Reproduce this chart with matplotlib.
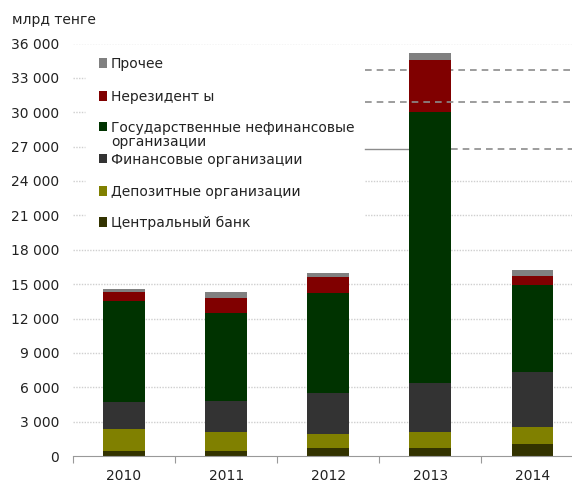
import matplotlib
matplotlib.use("Agg")
import matplotlib.pyplot as plt
from matplotlib.patches import Rectangle

years = ["2010", "2011", "2012", "2013", "2014"]
central_bank = [450, 450, 700, 700, 1050]
deposit_orgs = [1900, 1650, 1200, 1400, 1500]
financial_orgs = [2350, 2700, 3600, 4300, 4800]
gov_nonfin = [8800, 7700, 8700, 23600, 7550]
nonresidents = [800, 1300, 1450, 4550, 850]
other = [300, 500, 350, 650, 450]

series = [
    (central_bank, "#333300", "Центральный банк"),
    (deposit_orgs, "#808000", "Депозитные организации"),
    (financial_orgs, "#333333", "Финансовые организации"),
    (gov_nonfin, "#003300", "Государственные нефинансовые\nорганизации"),
    (nonresidents, "#800000", "Нерезидент ы"),
    (other, "#808080", "Прочее"),
]
yticks = list(range(0, 36001, 3000))

W, H = 572, 483
fig = plt.figure(figsize=(W / 100, H / 100), dpi=100)
ax_l, ax_r, ax_t, ax_b = 73, 583.5, 43.5, 456
ax = fig.add_axes([ax_l / W, 1 - ax_b / H, (ax_r - ax_l) / W, (ax_b - ax_t) / H])


def fx(px):
    return (px - ax_l) / (ax_r - ax_l)


x = range(len(years))
bottom = [0] * len(years)
for vals, color, label in series:
    ax.bar(x, vals, width=0.41, bottom=bottom, color=color, zorder=3)
    bottom = [b + v for b, v in zip(bottom, vals)]

ax.set_xlim(-0.5, 4.5)
ax.set_ylim(0, 36000)

# gridlines (partly hidden behind the legend box in the original)
grid_kw = dict(color="#cfcfcf", lw=1, ls=(0, (1, 1)), zorder=1)
for v in yticks[1:]:
    if v in (33000, 30000, 27000):
        ax.axhline(v, xmin=0, xmax=fx(85), **grid_kw)
    elif v in (24000, 21000):
        ax.axhline(v, xmin=0, xmax=fx(85), **grid_kw)
        ax.axhline(v, xmin=fx(365), xmax=1, **grid_kw)
    else:
        ax.axhline(v, **grid_kw)

# leftover guide lines on the right
dash_kw = dict(color="#8c8c8c", lw=1.2, ls=(0, (4, 3)))
ax.axhline(33700, xmin=fx(365), xmax=1, zorder=2, **dash_kw)
ax.axhline(30900, xmin=fx(365), xmax=1, zorder=4, **dash_kw)
ax.axhline(26800, xmin=fx(365), xmax=fx(410), color="#8c8c8c", lw=1, zorder=2)
ax.axhline(26800, xmin=fx(451), xmax=1, zorder=2, **dash_kw)

for s in ["top", "right", "left"]:
    ax.spines[s].set_visible(False)
ax.spines["bottom"].set_color("#999999")
ax.spines["bottom"].set_zorder(5)

ax.set_yticks(yticks)
ax.set_yticklabels([f"{v:,}".replace(",", " ") for v in yticks])
ax.tick_params(axis="y", length=0, pad=10, labelsize=10, labelcolor="#222222")

ax.set_xticks([i + 0.5 for i in range(-1, 4)], minor=False)
ax.set_xticklabels([])
ax.set_xticks(list(x), minor=True)
ax.set_xticklabels(years, minor=True)
ax.tick_params(axis="x", which="major", length=5, color="#999999", direction="out")
ax.tick_params(axis="x", which="minor", length=0, pad=9, labelsize=10, labelcolor="#222222")

fig.text(12 / W, 1 - 20 / H, "млрд тенге", fontsize=10, color="#222222", va="center", ha="left")

# legend drawn by hand
legend_rows = [
    ("#808080", "Прочее", 63),
    ("#800000", "Нерезидент ы", 96),
    ("#003300", "Государственные нефинансовые\nорганизации", 127),
    ("#333333", "Финансовые организации", 159),
    ("#808000", "Депозитные организации", 191),
    ("#333300", "Центральный банк", 222),
]
for color, label, yc in legend_rows:
    fig.patches.append(Rectangle((98.5 / W, 1 - (yc + 4.5) / H), 8.5 / W, 9 / H,
                                 transform=fig.transFigure, facecolor=color, edgecolor="none"))
    fig.text(111 / W, 1 - (yc - 6) / H, label, fontsize=10, color="#222222",
             ha="left", va="top", linespacing=1.0)

fig.savefig("out.png", dpi=100)
